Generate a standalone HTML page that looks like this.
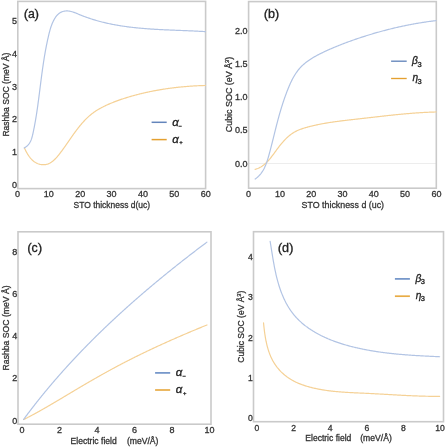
<!DOCTYPE html>
<html><head><meta charset="utf-8"><style>
html,body{margin:0;padding:0;background:#fff;width:445px;height:447px;overflow:hidden}
svg{display:block;filter:blur(0.3px)}
text{font-family:"Liberation Sans",sans-serif}
.t text{stroke-width:0.3px;paint-order:stroke}
</style></head><body>
<svg width="445" height="447" viewBox="0 0 445 447">
<rect width="445" height="447" fill="#fff"/>
<rect x="17.80" y="1.40" width="187.80" height="187.20" fill="none" stroke="#cacaca" stroke-width="1.6"/>
<path d="M24.44,148.02 24.71,148.62 24.99,149.23 25.29,149.85 25.60,150.48 25.92,151.12 26.26,151.77 26.61,152.41 26.98,153.06 27.36,153.70 27.76,154.35 28.17,154.99 28.59,155.62 29.03,156.25 29.48,156.86 29.95,157.47 30.43,158.06 30.93,158.64 31.44,159.19 31.97,159.73 32.51,160.25 33.07,160.75 33.64,161.22 34.22,161.67 34.82,162.09 35.44,162.48 36.07,162.84 36.71,163.17 37.36,163.46 38.03,163.73 38.70,163.97 39.37,164.17 40.06,164.34 40.74,164.48 41.43,164.59 42.12,164.67 42.81,164.71 43.50,164.72 44.18,164.70 44.87,164.64 45.54,164.55 46.21,164.43 46.87,164.27 47.52,164.07 48.16,163.85 48.79,163.59 49.41,163.30 50.02,162.98 50.62,162.63 51.21,162.26 51.79,161.86 52.37,161.43 52.93,160.99 53.49,160.52 54.04,160.04 54.58,159.53 55.11,159.01 55.64,158.47 56.16,157.93 56.67,157.36 57.17,156.79 57.67,156.21 58.16,155.62 58.65,155.02 59.13,154.42 59.60,153.81 60.07,153.20 60.54,152.59 60.99,151.98 61.45,151.38 61.90,150.77 62.34,150.17 62.78,149.56 63.22,148.96 63.65,148.36 64.08,147.76 64.50,147.16 64.93,146.57 65.35,145.97 65.76,145.38 66.18,144.78 66.59,144.19 67.00,143.60 67.41,143.01 67.82,142.42 68.23,141.84 68.63,141.25 69.04,140.66 69.44,140.08 69.85,139.49 70.25,138.91 70.65,138.33 71.06,137.75 71.46,137.17 71.87,136.59 72.28,136.01 72.68,135.43 73.09,134.85 73.50,134.27 73.92,133.70 74.33,133.12 74.75,132.54 75.17,131.97 75.60,131.39 76.02,130.82 76.45,130.25 76.89,129.67 77.32,129.10 77.77,128.53 78.21,127.95 78.66,127.38 79.11,126.81 79.57,126.25 80.03,125.68 80.49,125.12 80.96,124.56 81.44,124.00 81.91,123.45 82.39,122.90 82.88,122.35 83.37,121.80 83.87,121.26 84.37,120.73 84.87,120.20 85.38,119.67 85.89,119.15 86.41,118.63 86.94,118.12 87.46,117.61 88.00,117.11 88.54,116.62 89.08,116.13 89.63,115.65 90.18,115.18 90.74,114.71 91.31,114.25 91.88,113.80 92.46,113.36 93.04,112.92 93.62,112.50 94.22,112.08 94.81,111.66 95.42,111.26 96.02,110.86 96.64,110.47 97.25,110.09 97.87,109.71 98.50,109.34 99.12,108.97 99.76,108.62 100.39,108.26 101.03,107.92 101.67,107.57 102.32,107.24 102.97,106.91 103.62,106.58 104.27,106.26 104.92,105.94 105.58,105.63 106.24,105.32 106.90,105.02 107.56,104.72 108.23,104.42 108.89,104.13 109.56,103.84 110.23,103.55 110.90,103.27 111.57,102.99 112.24,102.72 112.92,102.44 113.59,102.17 114.27,101.91 114.95,101.65 115.62,101.39 116.30,101.13 116.98,100.88 117.67,100.63 118.35,100.38 119.03,100.14 119.72,99.89 120.40,99.66 121.09,99.42 121.78,99.19 122.47,98.96 123.16,98.73 123.85,98.50 124.54,98.28 125.23,98.06 125.93,97.84 126.62,97.63 127.31,97.41 128.01,97.20 128.70,96.99 129.40,96.79 130.10,96.58 130.80,96.38 131.49,96.18 132.19,95.98 132.89,95.79 133.59,95.59 134.29,95.40 135.00,95.21 135.70,95.02 136.40,94.84 137.10,94.65 137.81,94.47 138.51,94.29 139.21,94.11 139.92,93.94 140.62,93.76 141.33,93.59 142.04,93.42 142.74,93.25 143.45,93.09 144.16,92.92 144.87,92.76 145.58,92.60 146.29,92.44 147.00,92.29 147.71,92.13 148.42,91.98 149.13,91.83 149.84,91.68 150.55,91.53 151.26,91.39 151.98,91.24 152.69,91.10 153.40,90.96 154.12,90.83 154.83,90.69 155.55,90.56 156.26,90.43 156.98,90.30 157.69,90.17 158.41,90.04 159.12,89.92 159.84,89.79 160.56,89.67 161.28,89.55 161.99,89.44 162.71,89.32 163.43,89.21 164.15,89.09 164.87,88.98 165.59,88.88 166.31,88.77 167.02,88.66 167.74,88.56 168.47,88.46 169.19,88.36 169.91,88.26 170.63,88.17 171.35,88.07 172.07,87.98 172.79,87.89 173.51,87.80 174.24,87.71 174.96,87.63 175.68,87.54 176.40,87.46 177.13,87.38 177.85,87.30 178.57,87.22 179.30,87.15 180.02,87.07 180.74,87.00 181.47,86.93 182.19,86.86 182.91,86.79 183.64,86.73 184.36,86.66 185.09,86.60 185.81,86.54 186.54,86.48 187.26,86.42 187.99,86.36 188.71,86.31 189.44,86.26 190.16,86.20 190.89,86.15 191.61,86.11 192.34,86.06 193.06,86.01 193.79,85.97 194.51,85.93 195.24,85.89 195.96,85.85 196.69,85.81 197.41,85.77 198.14,85.74 198.87,85.71 199.59,85.67 200.32,85.64 201.04,85.62 201.77,85.59 202.49,85.56 203.22,85.54 203.94,85.52 204.67,85.49 205.39,85.47" stroke="#f5d196" stroke-width="1.20" fill="none" stroke-linejoin="round" stroke-linecap="round"/>
<path d="M24.20,147.91 25.14,147.38 26.00,146.81 26.80,146.20 27.52,145.54 28.19,144.85 28.79,144.12 29.34,143.36 29.84,142.57 30.29,141.75 30.70,140.90 31.07,140.03 31.41,139.14 31.71,138.24 31.99,137.32 32.25,136.38 32.49,135.44 32.71,134.49 32.93,133.54 33.14,132.58 33.34,131.62 33.54,130.66 33.74,129.70 33.93,128.74 34.13,127.78 34.31,126.82 34.50,125.86 34.68,124.90 34.86,123.94 35.03,122.97 35.21,122.01 35.37,121.04 35.54,120.08 35.71,119.11 35.87,118.15 36.03,117.18 36.18,116.22 36.34,115.25 36.49,114.28 36.64,113.32 36.79,112.35 36.93,111.38 37.07,110.41 37.22,109.44 37.36,108.48 37.49,107.51 37.63,106.54 37.77,105.57 37.90,104.60 38.03,103.64 38.16,102.67 38.29,101.70 38.42,100.73 38.55,99.77 38.68,98.80 38.80,97.83 38.93,96.86 39.05,95.90 39.18,94.93 39.30,93.96 39.42,93.00 39.54,92.03 39.67,91.07 39.79,90.10 39.91,89.14 40.03,88.17 40.15,87.21 40.27,86.25 40.40,85.28 40.52,84.32 40.64,83.36 40.76,82.39 40.89,81.43 41.01,80.47 41.13,79.51 41.26,78.55 41.38,77.58 41.51,76.62 41.64,75.66 41.76,74.70 41.89,73.74 42.02,72.78 42.15,71.82 42.29,70.86 42.42,69.90 42.55,68.94 42.69,67.98 42.83,67.02 42.97,66.06 43.11,65.10 43.25,64.14 43.39,63.18 43.54,62.22 43.69,61.27 43.84,60.31 43.99,59.35 44.14,58.39 44.30,57.43 44.46,56.47 44.62,55.51 44.78,54.56 44.94,53.60 45.11,52.64 45.28,51.68 45.46,50.72 45.63,49.76 45.81,48.81 45.99,47.85 46.18,46.89 46.36,45.93 46.55,44.97 46.75,44.02 46.94,43.06 47.14,42.10 47.35,41.14 47.55,40.18 47.77,39.22 47.98,38.26 48.20,37.31 48.42,36.35 48.64,35.39 48.87,34.43 49.11,33.47 49.35,32.51 49.60,31.55 49.85,30.60 50.12,29.65 50.40,28.70 50.69,27.75 51.00,26.81 51.33,25.87 51.67,24.94 52.03,24.01 52.41,23.09 52.82,22.18 53.24,21.27 53.69,20.37 54.17,19.49 54.67,18.62 55.20,17.78 55.76,16.96 56.34,16.18 56.95,15.44 57.60,14.75 58.27,14.10 58.97,13.51 59.70,12.98 60.46,12.52 61.25,12.11 62.07,11.77 62.90,11.49 63.76,11.27 64.64,11.10 65.53,11.00 66.43,10.95 67.35,10.95 68.27,11.01 69.20,11.11 70.13,11.27 71.06,11.48 71.99,11.73 72.93,12.02 73.87,12.34 74.80,12.68 75.74,13.04 76.68,13.42 77.61,13.81 78.55,14.20 79.49,14.59 80.43,14.98 81.36,15.36 82.30,15.73 83.23,16.09 84.16,16.45 85.10,16.80 86.03,17.14 86.96,17.47 87.90,17.80 88.83,18.13 89.76,18.44 90.69,18.75 91.63,19.05 92.56,19.35 93.49,19.64 94.42,19.92 95.36,20.20 96.29,20.47 97.23,20.74 98.16,21.00 99.09,21.26 100.03,21.51 100.97,21.75 101.90,21.99 102.84,22.23 103.78,22.45 104.72,22.68 105.66,22.90 106.60,23.11 107.54,23.32 108.49,23.53 109.43,23.73 110.38,23.93 111.33,24.12 112.27,24.31 113.22,24.49 114.17,24.67 115.12,24.85 116.08,25.02 117.03,25.19 117.98,25.35 118.94,25.51 119.90,25.67 120.85,25.82 121.81,25.97 122.77,26.12 123.73,26.26 124.69,26.40 125.65,26.53 126.61,26.66 127.58,26.79 128.54,26.92 129.50,27.04 130.47,27.16 131.44,27.27 132.40,27.38 133.37,27.49 134.34,27.60 135.30,27.70 136.27,27.81 137.24,27.90 138.21,28.00 139.18,28.09 140.16,28.18 141.13,28.27 142.10,28.36 143.07,28.44 144.04,28.52 145.02,28.60 145.99,28.68 146.97,28.75 147.94,28.82 148.92,28.89 149.89,28.96 150.87,29.03 151.84,29.09 152.82,29.16 153.79,29.22 154.77,29.28 155.75,29.34 156.72,29.39 157.70,29.45 158.68,29.50 159.65,29.55 160.63,29.60 161.61,29.65 162.59,29.70 163.56,29.75 164.54,29.80 165.52,29.84 166.50,29.89 167.47,29.93 168.45,29.97 169.43,30.02 170.40,30.06 171.38,30.10 172.36,30.14 173.34,30.18 174.31,30.22 175.29,30.26 176.26,30.30 177.24,30.33 178.22,30.37 179.19,30.41 180.17,30.45 181.14,30.49 182.11,30.52 183.09,30.56 184.06,30.60 185.03,30.64 186.01,30.68 186.98,30.71 187.95,30.75 188.92,30.79 189.89,30.83 190.86,30.87 191.83,30.92 192.80,30.96 193.77,31.00 194.74,31.04 195.71,31.09 196.67,31.13 197.64,31.18 198.60,31.23 199.57,31.28 200.53,31.33 201.50,31.38 202.46,31.43 203.42,31.48 204.38,31.54 205.34,31.59" stroke="#b2c4e4" stroke-width="1.20" fill="none" stroke-linejoin="round" stroke-linecap="round"/>
<path d="M151.6,122.3H166.7" stroke="#6385bb" stroke-width="1.5"/>
<path d="M151.6,139.6H166.7" stroke="#e4a030" stroke-width="1.5"/>
<path d="M248.60,163.45H436.30" stroke="#ededed" stroke-width="1.1"/>
<rect x="248.60" y="1.60" width="187.70" height="186.60" fill="none" stroke="#cacaca" stroke-width="1.6"/>
<path d="M255.10,169.30 255.79,169.12 256.45,168.92 257.10,168.70 257.74,168.47 258.36,168.21 258.97,167.93 259.57,167.64 260.15,167.33 260.72,167.01 261.29,166.67 261.84,166.32 262.37,165.96 262.90,165.58 263.42,165.19 263.93,164.79 264.43,164.37 264.92,163.95 265.41,163.52 265.88,163.08 266.35,162.63 266.82,162.17 267.27,161.71 267.72,161.24 268.17,160.76 268.61,160.27 269.04,159.78 269.47,159.29 269.89,158.78 270.31,158.28 270.73,157.76 271.14,157.25 271.55,156.73 271.96,156.20 272.36,155.68 272.77,155.14 273.17,154.61 273.57,154.07 273.96,153.53 274.36,152.99 274.76,152.45 275.15,151.91 275.55,151.36 275.94,150.82 276.34,150.27 276.74,149.73 277.14,149.18 277.54,148.64 277.94,148.10 278.35,147.56 278.76,147.02 279.17,146.48 279.58,145.94 280.00,145.41 280.42,144.88 280.85,144.36 281.28,143.83 281.71,143.31 282.15,142.80 282.59,142.29 283.03,141.78 283.48,141.28 283.94,140.78 284.39,140.29 284.86,139.81 285.32,139.33 285.79,138.85 286.27,138.39 286.75,137.93 287.23,137.47 287.73,137.03 288.22,136.59 288.72,136.16 289.23,135.74 289.74,135.32 290.26,134.92 290.78,134.52 291.31,134.13 291.84,133.75 292.38,133.38 292.93,133.03 293.48,132.68 294.04,132.34 294.60,132.01 295.17,131.70 295.75,131.39 296.33,131.10 296.92,130.81 297.51,130.54 298.11,130.27 298.71,130.02 299.32,129.77 299.93,129.53 300.55,129.30 301.17,129.07 301.79,128.85 302.42,128.64 303.05,128.44 303.68,128.24 304.31,128.04 304.95,127.85 305.58,127.66 306.22,127.48 306.86,127.30 307.50,127.12 308.14,126.95 308.79,126.78 309.43,126.61 310.07,126.45 310.71,126.28 311.36,126.12 312.00,125.97 312.65,125.81 313.29,125.66 313.94,125.51 314.59,125.36 315.23,125.22 315.88,125.07 316.53,124.93 317.18,124.79 317.83,124.66 318.48,124.52 319.13,124.39 319.78,124.26 320.43,124.13 321.08,124.01 321.73,123.88 322.39,123.76 323.04,123.64 323.69,123.52 324.35,123.40 325.00,123.29 325.65,123.18 326.31,123.06 326.96,122.95 327.62,122.85 328.28,122.74 328.93,122.64 329.59,122.53 330.24,122.43 330.90,122.33 331.56,122.23 332.22,122.13 332.87,122.04 333.53,121.94 334.19,121.85 334.85,121.75 335.51,121.66 336.17,121.57 336.83,121.48 337.49,121.39 338.15,121.31 338.81,121.22 339.47,121.14 340.13,121.05 340.79,120.97 341.45,120.88 342.11,120.80 342.77,120.72 343.43,120.64 344.09,120.56 344.75,120.48 345.41,120.40 346.07,120.33 346.74,120.25 347.40,120.17 348.06,120.09 348.72,120.02 349.38,119.94 350.04,119.87 350.70,119.79 351.37,119.72 352.03,119.64 352.69,119.57 353.35,119.49 354.01,119.42 354.67,119.34 355.34,119.27 356.00,119.20 356.66,119.12 357.32,119.05 357.98,118.97 358.64,118.90 359.30,118.82 359.97,118.75 360.63,118.67 361.29,118.60 361.95,118.52 362.61,118.45 363.27,118.37 363.93,118.30 364.59,118.22 365.25,118.14 365.91,118.07 366.57,117.99 367.23,117.92 367.89,117.84 368.55,117.76 369.21,117.69 369.87,117.61 370.53,117.54 371.19,117.46 371.85,117.38 372.51,117.31 373.17,117.23 373.83,117.15 374.49,117.08 375.15,117.00 375.81,116.93 376.47,116.85 377.13,116.78 377.79,116.70 378.45,116.63 379.10,116.55 379.76,116.48 380.42,116.40 381.08,116.33 381.74,116.25 382.40,116.18 383.06,116.11 383.72,116.03 384.38,115.96 385.04,115.89 385.70,115.81 386.36,115.74 387.02,115.67 387.68,115.60 388.34,115.52 388.99,115.45 389.65,115.38 390.31,115.31 390.97,115.24 391.63,115.17 392.29,115.10 392.95,115.03 393.61,114.97 394.27,114.90 394.93,114.83 395.59,114.76 396.25,114.70 396.91,114.63 397.57,114.56 398.23,114.50 398.89,114.43 399.55,114.37 400.21,114.31 400.87,114.24 401.53,114.18 402.19,114.12 402.85,114.06 403.51,114.00 404.17,113.93 404.83,113.88 405.49,113.82 406.15,113.76 406.81,113.70 407.47,113.64 408.13,113.59 408.80,113.53 409.46,113.48 410.12,113.42 410.78,113.37 411.44,113.31 412.10,113.26 412.76,113.21 413.43,113.16 414.09,113.11 414.75,113.06 415.41,113.01 416.07,112.96 416.74,112.92 417.40,112.87 418.06,112.83 418.72,112.78 419.39,112.74 420.05,112.70 420.71,112.66 421.38,112.61 422.04,112.57 422.70,112.54 423.37,112.50 424.03,112.46 424.69,112.42 425.36,112.39 426.02,112.36 426.69,112.32 427.35,112.29 428.02,112.26 428.68,112.23 429.35,112.20 430.01,112.17 430.68,112.15 431.34,112.12 432.01,112.09 432.68,112.07 433.34,112.05 434.01,112.03 434.67,112.01 435.34,111.99 436.01,111.97" stroke="#f5d196" stroke-width="1.20" fill="none" stroke-linejoin="round" stroke-linecap="round"/>
<path d="M255.14,179.02 255.92,178.47 256.66,177.89 257.37,177.29 258.05,176.68 258.71,176.05 259.33,175.40 259.93,174.74 260.51,174.06 261.06,173.37 261.58,172.66 262.08,171.94 262.56,171.20 263.02,170.46 263.46,169.70 263.88,168.93 264.28,168.15 264.67,167.36 265.04,166.56 265.39,165.76 265.73,164.94 266.05,164.12 266.37,163.29 266.67,162.45 266.96,161.61 267.24,160.76 267.51,159.91 267.78,159.06 268.04,158.20 268.29,157.34 268.53,156.47 268.78,155.61 269.02,154.75 269.26,153.88 269.49,153.01 269.73,152.15 269.96,151.28 270.19,150.42 270.42,149.55 270.65,148.68 270.87,147.82 271.10,146.95 271.32,146.08 271.54,145.21 271.76,144.35 271.98,143.48 272.20,142.61 272.42,141.74 272.63,140.88 272.85,140.01 273.07,139.14 273.28,138.27 273.50,137.41 273.71,136.54 273.93,135.67 274.14,134.80 274.36,133.93 274.57,133.07 274.79,132.20 275.01,131.33 275.22,130.46 275.44,129.60 275.66,128.73 275.88,127.86 276.09,127.00 276.31,126.13 276.54,125.27 276.76,124.40 276.98,123.54 277.21,122.67 277.43,121.81 277.66,120.94 277.89,120.08 278.12,119.21 278.36,118.35 278.59,117.49 278.83,116.63 279.07,115.76 279.31,114.90 279.56,114.04 279.80,113.18 280.05,112.32 280.30,111.46 280.55,110.60 280.81,109.75 281.07,108.89 281.33,108.03 281.59,107.18 281.86,106.32 282.12,105.47 282.40,104.61 282.67,103.76 282.95,102.91 283.23,102.06 283.51,101.21 283.79,100.36 284.08,99.51 284.38,98.66 284.67,97.81 284.97,96.97 285.27,96.12 285.58,95.28 285.89,94.44 286.20,93.59 286.51,92.75 286.83,91.91 287.16,91.08 287.48,90.24 287.82,89.40 288.15,88.57 288.49,87.73 288.83,86.90 289.18,86.08 289.54,85.25 289.90,84.43 290.26,83.61 290.64,82.79 291.02,81.98 291.40,81.18 291.80,80.38 292.20,79.58 292.61,78.80 293.03,78.01 293.46,77.24 293.90,76.47 294.35,75.71 294.80,74.95 295.27,74.21 295.75,73.47 296.24,72.74 296.74,72.03 297.26,71.32 297.78,70.62 298.32,69.93 298.87,69.25 299.44,68.59 300.02,67.94 300.61,67.29 301.22,66.66 301.84,66.04 302.47,65.44 303.11,64.84 303.77,64.26 304.44,63.68 305.12,63.12 305.81,62.57 306.51,62.02 307.23,61.49 307.95,60.97 308.68,60.45 309.42,59.94 310.16,59.45 310.92,58.96 311.68,58.47 312.45,58.00 313.22,57.54 314.01,57.08 314.79,56.63 315.59,56.18 316.38,55.74 317.19,55.31 317.99,54.88 318.80,54.46 319.61,54.05 320.43,53.64 321.24,53.24 322.06,52.84 322.88,52.44 323.70,52.05 324.52,51.66 325.34,51.28 326.16,50.90 326.99,50.53 327.81,50.15 328.63,49.78 329.45,49.42 330.27,49.06 331.09,48.70 331.91,48.34 332.73,47.99 333.56,47.64 334.38,47.29 335.20,46.95 336.02,46.61 336.85,46.27 337.67,45.93 338.50,45.60 339.32,45.27 340.15,44.94 340.97,44.62 341.80,44.30 342.62,43.98 343.45,43.66 344.28,43.34 345.11,43.03 345.94,42.72 346.77,42.41 347.60,42.10 348.43,41.80 349.27,41.49 350.10,41.19 350.94,40.89 351.77,40.59 352.61,40.30 353.45,40.00 354.29,39.71 355.13,39.42 355.97,39.13 356.81,38.84 357.65,38.55 358.50,38.27 359.34,37.99 360.19,37.71 361.04,37.43 361.89,37.15 362.73,36.87 363.58,36.60 364.43,36.33 365.29,36.06 366.14,35.79 366.99,35.52 367.85,35.25 368.70,34.99 369.56,34.73 370.41,34.47 371.27,34.21 372.13,33.95 372.99,33.70 373.85,33.45 374.71,33.20 375.57,32.95 376.43,32.70 377.29,32.45 378.15,32.21 379.02,31.97 379.88,31.73 380.74,31.49 381.61,31.26 382.48,31.02 383.34,30.79 384.21,30.56 385.08,30.33 385.95,30.11 386.81,29.88 387.68,29.66 388.55,29.44 389.42,29.22 390.30,29.00 391.17,28.79 392.04,28.58 392.91,28.36 393.78,28.16 394.66,27.95 395.53,27.75 396.40,27.54 397.28,27.34 398.15,27.14 399.03,26.95 399.90,26.75 400.78,26.56 401.65,26.37 402.53,26.18 403.41,26.00 404.28,25.81 405.16,25.63 406.04,25.45 406.92,25.27 407.79,25.10 408.67,24.92 409.55,24.75 410.43,24.58 411.31,24.41 412.19,24.25 413.07,24.09 413.95,23.93 414.82,23.77 415.70,23.61 416.58,23.46 417.46,23.30 418.34,23.15 419.22,23.01 420.10,22.86 420.98,22.72 421.86,22.58 422.74,22.44 423.62,22.30 424.50,22.17 425.38,22.04 426.26,21.91 427.14,21.78 428.02,21.65 428.90,21.53 429.78,21.41 430.66,21.29 431.54,21.18 432.42,21.06 433.30,20.95 434.18,20.84 435.06,20.73 435.93,20.63" stroke="#b2c4e4" stroke-width="1.20" fill="none" stroke-linejoin="round" stroke-linecap="round"/>
<path d="M391.1,61.2H406.7" stroke="#6385bb" stroke-width="1.35"/>
<path d="M391.1,78.5H406.7" stroke="#e4a030" stroke-width="1.35"/>
<rect x="18.00" y="231.80" width="193.00" height="192.40" fill="none" stroke="#cacaca" stroke-width="1.6"/>
<path d="M23.68,419.54 24.30,419.23 24.91,418.92 25.53,418.61 26.14,418.29 26.76,417.98 27.37,417.66 27.98,417.34 28.60,417.02 29.21,416.70 29.82,416.38 30.43,416.06 31.04,415.73 31.65,415.41 32.26,415.09 32.86,414.76 33.47,414.43 34.08,414.10 34.69,413.77 35.29,413.44 35.90,413.11 36.50,412.78 37.11,412.45 37.71,412.11 38.31,411.78 38.92,411.44 39.52,411.11 40.12,410.77 40.72,410.43 41.33,410.09 41.93,409.76 42.53,409.42 43.13,409.07 43.73,408.73 44.33,408.39 44.93,408.05 45.53,407.71 46.12,407.36 46.72,407.02 47.32,406.67 47.92,406.33 48.51,405.98 49.11,405.63 49.71,405.29 50.30,404.94 50.90,404.59 51.50,404.24 52.09,403.89 52.69,403.54 53.28,403.19 53.88,402.84 54.47,402.49 55.07,402.14 55.66,401.79 56.26,401.44 56.85,401.08 57.44,400.73 58.04,400.38 58.63,400.03 59.22,399.67 59.82,399.32 60.41,398.96 61.00,398.61 61.60,398.26 62.19,397.90 62.78,397.55 63.38,397.19 63.97,396.84 64.56,396.48 65.15,396.13 65.75,395.77 66.34,395.42 66.93,395.06 67.53,394.71 68.12,394.35 68.71,394.00 69.30,393.64 69.90,393.29 70.49,392.93 71.08,392.58 71.67,392.22 72.27,391.87 72.86,391.52 73.45,391.16 74.05,390.81 74.64,390.45 75.23,390.10 75.83,389.75 76.42,389.39 77.02,389.04 77.61,388.69 78.20,388.33 78.80,387.98 79.39,387.63 79.99,387.28 80.58,386.93 81.18,386.58 81.77,386.23 82.37,385.87 82.96,385.52 83.56,385.17 84.16,384.82 84.75,384.48 85.35,384.13 85.95,383.78 86.54,383.43 87.14,383.08 87.74,382.73 88.33,382.39 88.93,382.04 89.53,381.69 90.13,381.35 90.73,381.00 91.32,380.65 91.92,380.31 92.52,379.96 93.12,379.62 93.72,379.28 94.32,378.93 94.92,378.59 95.52,378.25 96.12,377.90 96.72,377.56 97.32,377.22 97.92,376.88 98.52,376.54 99.12,376.20 99.72,375.86 100.32,375.52 100.93,375.18 101.53,374.84 102.13,374.50 102.73,374.17 103.34,373.83 103.94,373.49 104.54,373.16 105.15,372.82 105.75,372.49 106.36,372.15 106.96,371.82 107.56,371.49 108.17,371.15 108.78,370.82 109.38,370.49 109.99,370.16 110.59,369.83 111.20,369.50 111.81,369.17 112.41,368.84 113.02,368.51 113.63,368.18 114.24,367.85 114.84,367.52 115.45,367.20 116.06,366.87 116.67,366.55 117.28,366.22 117.89,365.90 118.50,365.58 119.11,365.25 119.72,364.93 120.33,364.61 120.94,364.29 121.56,363.97 122.17,363.65 122.78,363.33 123.39,363.01 124.00,362.69 124.62,362.38 125.23,362.06 125.84,361.74 126.46,361.43 127.07,361.11 127.69,360.80 128.30,360.48 128.92,360.17 129.53,359.86 130.15,359.54 130.77,359.23 131.38,358.92 132.00,358.61 132.62,358.30 133.23,357.99 133.85,357.68 134.47,357.38 135.09,357.07 135.70,356.76 136.32,356.45 136.94,356.15 137.56,355.84 138.18,355.54 138.80,355.23 139.42,354.93 140.04,354.63 140.66,354.32 141.28,354.02 141.90,353.72 142.52,353.42 143.14,353.12 143.77,352.82 144.39,352.52 145.01,352.22 145.63,351.92 146.26,351.62 146.88,351.32 147.50,351.02 148.12,350.73 148.75,350.43 149.37,350.14 150.00,349.84 150.62,349.55 151.25,349.25 151.87,348.96 152.50,348.66 153.12,348.37 153.75,348.08 154.37,347.79 155.00,347.49 155.62,347.20 156.25,346.91 156.88,346.62 157.50,346.33 158.13,346.04 158.76,345.76 159.39,345.47 160.01,345.18 160.64,344.89 161.27,344.60 161.90,344.32 162.53,344.03 163.16,343.75 163.79,343.46 164.42,343.18 165.04,342.89 165.67,342.61 166.30,342.33 166.93,342.04 167.56,341.76 168.20,341.48 168.83,341.20 169.46,340.91 170.09,340.63 170.72,340.35 171.35,340.07 171.98,339.79 172.61,339.51 173.25,339.23 173.88,338.96 174.51,338.68 175.14,338.40 175.78,338.12 176.41,337.85 177.04,337.57 177.68,337.29 178.31,337.02 178.94,336.74 179.58,336.47 180.21,336.19 180.84,335.92 181.48,335.64 182.11,335.37 182.75,335.10 183.38,334.82 184.02,334.55 184.65,334.28 185.29,334.01 185.92,333.73 186.56,333.46 187.19,333.19 187.83,332.92 188.47,332.65 189.10,332.38 189.74,332.11 190.37,331.84 191.01,331.57 191.65,331.31 192.29,331.04 192.92,330.77 193.56,330.50 194.20,330.24 194.83,329.97 195.47,329.70 196.11,329.44 196.75,329.17 197.38,328.90 198.02,328.64 198.66,328.37 199.30,328.11 199.94,327.84 200.58,327.58 201.22,327.32 201.85,327.05 202.49,326.79 203.13,326.53 203.77,326.26 204.41,326.00 205.05,325.74 205.69,325.48 206.33,325.22 206.97,324.95" stroke="#f5d196" stroke-width="1.20" fill="none" stroke-linejoin="round" stroke-linecap="round"/>
<path d="M23.62,419.42 24.12,418.73 24.63,418.04 25.14,417.35 25.66,416.66 26.17,415.97 26.68,415.29 27.19,414.60 27.71,413.92 28.22,413.23 28.74,412.55 29.26,411.87 29.78,411.18 30.30,410.50 30.82,409.82 31.34,409.14 31.86,408.46 32.38,407.79 32.91,407.11 33.43,406.43 33.96,405.76 34.48,405.08 35.01,404.41 35.54,403.73 36.07,403.06 36.60,402.39 37.13,401.72 37.66,401.05 38.19,400.38 38.73,399.71 39.26,399.04 39.80,398.37 40.33,397.70 40.87,397.04 41.41,396.37 41.95,395.71 42.49,395.04 43.03,394.38 43.57,393.72 44.11,393.06 44.66,392.39 45.20,391.73 45.75,391.07 46.29,390.42 46.84,389.76 47.38,389.10 47.93,388.44 48.48,387.79 49.03,387.13 49.58,386.48 50.13,385.82 50.69,385.17 51.24,384.52 51.79,383.86 52.35,383.21 52.90,382.56 53.46,381.91 54.02,381.26 54.58,380.61 55.14,379.97 55.69,379.32 56.26,378.67 56.82,378.03 57.38,377.38 57.94,376.74 58.51,376.10 59.07,375.45 59.63,374.81 60.20,374.17 60.77,373.53 61.34,372.89 61.90,372.25 62.47,371.61 63.04,370.97 63.61,370.33 64.18,369.70 64.76,369.06 65.33,368.43 65.90,367.79 66.48,367.16 67.05,366.52 67.63,365.89 68.21,365.26 68.78,364.63 69.36,364.00 69.94,363.37 70.52,362.74 71.10,362.11 71.68,361.48 72.26,360.85 72.85,360.23 73.43,359.60 74.01,358.98 74.60,358.35 75.18,357.73 75.77,357.10 76.36,356.48 76.95,355.86 77.53,355.24 78.12,354.62 78.71,354.00 79.30,353.38 79.89,352.76 80.49,352.14 81.08,351.52 81.67,350.91 82.27,350.29 82.86,349.67 83.46,349.06 84.05,348.45 84.65,347.83 85.25,347.22 85.84,346.61 86.44,345.99 87.04,345.38 87.64,344.77 88.24,344.16 88.84,343.55 89.45,342.95 90.05,342.34 90.65,341.73 91.26,341.12 91.86,340.52 92.47,339.91 93.07,339.31 93.68,338.70 94.29,338.10 94.90,337.50 95.50,336.90 96.11,336.29 96.72,335.69 97.33,335.09 97.94,334.49 98.56,333.89 99.17,333.29 99.78,332.70 100.40,332.10 101.01,331.50 101.62,330.91 102.24,330.31 102.86,329.72 103.47,329.12 104.09,328.53 104.71,327.94 105.33,327.34 105.95,326.75 106.56,326.16 107.19,325.57 107.81,324.98 108.43,324.39 109.05,323.80 109.67,323.21 110.30,322.63 110.92,322.04 111.54,321.45 112.17,320.87 112.79,320.28 113.42,319.70 114.05,319.11 114.67,318.53 115.30,317.95 115.93,317.36 116.56,316.78 117.19,316.20 117.82,315.62 118.45,315.04 119.08,314.46 119.71,313.88 120.34,313.30 120.98,312.73 121.61,312.15 122.24,311.57 122.88,311.00 123.51,310.42 124.15,309.85 124.78,309.27 125.42,308.70 126.06,308.12 126.69,307.55 127.33,306.98 127.97,306.41 128.61,305.84 129.25,305.27 129.89,304.70 130.53,304.13 131.17,303.56 131.81,302.99 132.45,302.42 133.10,301.86 133.74,301.29 134.38,300.73 135.03,300.16 135.67,299.60 136.32,299.03 136.96,298.47 137.61,297.90 138.25,297.34 138.90,296.78 139.55,296.22 140.20,295.66 140.85,295.10 141.49,294.54 142.14,293.98 142.79,293.42 143.44,292.86 144.09,292.30 144.74,291.75 145.40,291.19 146.05,290.63 146.70,290.08 147.35,289.52 148.01,288.97 148.66,288.42 149.31,287.86 149.97,287.31 150.62,286.76 151.28,286.20 151.93,285.65 152.59,285.10 153.25,284.55 153.90,284.00 154.56,283.45 155.22,282.90 155.88,282.36 156.54,281.81 157.20,281.26 157.86,280.72 158.52,280.17 159.18,279.62 159.84,279.08 160.50,278.53 161.16,277.99 161.82,277.45 162.48,276.90 163.15,276.36 163.81,275.82 164.47,275.28 165.14,274.74 165.80,274.20 166.46,273.66 167.13,273.12 167.79,272.58 168.46,272.04 169.13,271.50 169.79,270.96 170.46,270.43 171.13,269.89 171.79,269.35 172.46,268.82 173.13,268.28 173.80,267.75 174.47,267.21 175.14,266.68 175.81,266.15 176.48,265.61 177.15,265.08 177.82,264.55 178.49,264.02 179.16,263.49 179.83,262.96 180.50,262.43 181.17,261.90 181.85,261.37 182.52,260.84 183.19,260.31 183.86,259.79 184.54,259.26 185.21,258.73 185.89,258.21 186.56,257.68 187.24,257.16 187.91,256.63 188.59,256.11 189.26,255.58 189.94,255.06 190.61,254.54 191.29,254.01 191.97,253.49 192.65,252.97 193.32,252.45 194.00,251.93 194.68,251.41 195.36,250.89 196.03,250.37 196.71,249.85 197.39,249.33 198.07,248.82 198.75,248.30 199.43,247.78 200.11,247.27 200.79,246.75 201.47,246.23 202.15,245.72 202.83,245.20 203.52,244.69 204.20,244.18 204.88,243.66 205.56,243.15 206.24,242.64 206.92,242.12" stroke="#b2c4e4" stroke-width="1.20" fill="none" stroke-linejoin="round" stroke-linecap="round"/>
<path d="M155.1,372.9H170.2" stroke="#7093c8" stroke-width="1.7"/>
<path d="M155.1,390.0H170.2" stroke="#e8ac46" stroke-width="1.7"/>
<rect x="253.50" y="231.70" width="190.00" height="190.00" fill="none" stroke="#cacaca" stroke-width="1.6"/>
<path d="M263.53,322.87 263.60,323.56 263.67,324.25 263.74,324.95 263.81,325.65 263.88,326.35 263.96,327.06 264.04,327.77 264.12,328.48 264.20,329.19 264.28,329.91 264.37,330.62 264.46,331.34 264.56,332.06 264.66,332.79 264.76,333.51 264.86,334.23 264.97,334.96 265.08,335.69 265.20,336.41 265.32,337.14 265.44,337.87 265.57,338.59 265.71,339.32 265.84,340.05 265.99,340.77 266.13,341.50 266.29,342.22 266.45,342.94 266.61,343.67 266.78,344.39 266.95,345.10 267.13,345.82 267.32,346.54 267.51,347.25 267.71,347.96 267.91,348.67 268.12,349.37 268.34,350.07 268.56,350.77 268.79,351.47 269.03,352.16 269.28,352.85 269.53,353.53 269.79,354.21 270.06,354.89 270.33,355.56 270.61,356.23 270.90,356.89 271.20,357.55 271.51,358.21 271.82,358.85 272.15,359.50 272.48,360.13 272.82,360.77 273.17,361.39 273.53,362.01 273.90,362.62 274.28,363.23 274.66,363.83 275.05,364.43 275.45,365.02 275.86,365.60 276.28,366.17 276.71,366.74 277.14,367.31 277.58,367.86 278.03,368.41 278.49,368.96 278.95,369.49 279.43,370.02 279.91,370.55 280.39,371.06 280.89,371.57 281.39,372.08 281.90,372.57 282.41,373.06 282.94,373.54 283.46,374.01 284.00,374.48 284.54,374.94 285.09,375.39 285.65,375.83 286.21,376.27 286.78,376.70 287.35,377.12 287.93,377.53 288.52,377.94 289.11,378.34 289.71,378.73 290.32,379.11 290.93,379.48 291.54,379.85 292.16,380.21 292.79,380.56 293.42,380.90 294.06,381.23 294.70,381.56 295.34,381.88 296.00,382.19 296.65,382.49 297.31,382.79 297.97,383.08 298.64,383.37 299.31,383.64 299.98,383.91 300.66,384.18 301.34,384.43 302.03,384.69 302.71,384.93 303.40,385.17 304.10,385.40 304.79,385.63 305.49,385.85 306.19,386.07 306.89,386.28 307.59,386.49 308.29,386.69 309.00,386.89 309.70,387.08 310.41,387.27 311.12,387.45 311.83,387.63 312.54,387.80 313.25,387.97 313.96,388.14 314.67,388.30 315.38,388.46 316.10,388.61 316.81,388.76 317.52,388.91 318.24,389.05 318.95,389.19 319.67,389.32 320.38,389.45 321.10,389.58 321.82,389.71 322.53,389.83 323.25,389.95 323.97,390.06 324.68,390.17 325.40,390.28 326.12,390.39 326.84,390.49 327.56,390.59 328.28,390.69 329.00,390.78 329.72,390.87 330.44,390.96 331.16,391.04 331.88,391.13 332.61,391.21 333.33,391.29 334.05,391.36 334.77,391.44 335.50,391.51 336.22,391.58 336.94,391.64 337.66,391.71 338.39,391.77 339.11,391.83 339.84,391.89 340.56,391.95 341.28,392.01 342.01,392.06 342.73,392.11 343.46,392.16 344.18,392.21 344.91,392.26 345.63,392.31 346.36,392.35 347.08,392.40 347.81,392.44 348.53,392.48 349.26,392.52 349.99,392.56 350.71,392.60 351.44,392.64 352.16,392.67 352.89,392.71 353.61,392.75 354.34,392.78 355.06,392.82 355.79,392.85 356.51,392.88 357.24,392.92 357.97,392.95 358.69,392.98 359.42,393.01 360.14,393.04 360.87,393.08 361.59,393.11 362.31,393.14 363.04,393.17 363.76,393.21 364.49,393.24 365.21,393.27 365.94,393.30 366.66,393.34 367.38,393.37 368.11,393.41 368.83,393.44 369.55,393.48 370.27,393.51 371.00,393.55 371.72,393.59 372.44,393.62 373.16,393.66 373.88,393.70 374.61,393.74 375.33,393.78 376.05,393.82 376.77,393.86 377.49,393.90 378.21,393.94 378.93,393.98 379.65,394.02 380.37,394.06 381.09,394.10 381.81,394.14 382.53,394.18 383.25,394.22 383.97,394.26 384.69,394.30 385.41,394.35 386.13,394.39 386.85,394.43 387.57,394.47 388.29,394.51 389.01,394.55 389.73,394.60 390.45,394.64 391.17,394.68 391.89,394.72 392.61,394.76 393.33,394.80 394.05,394.84 394.77,394.89 395.49,394.93 396.21,394.97 396.93,395.01 397.65,395.05 398.37,395.09 399.09,395.13 399.81,395.17 400.53,395.21 401.25,395.24 401.97,395.28 402.69,395.32 403.41,395.36 404.13,395.39 404.85,395.43 405.57,395.47 406.29,395.50 407.01,395.54 407.73,395.57 408.45,395.61 409.17,395.64 409.89,395.67 410.61,395.71 411.34,395.74 412.06,395.77 412.78,395.80 413.50,395.83 414.22,395.86 414.94,395.89 415.67,395.92 416.39,395.95 417.11,395.97 417.83,396.00 418.56,396.02 419.28,396.05 420.00,396.07 420.73,396.09 421.45,396.12 422.18,396.14 422.90,396.16 423.62,396.18 424.35,396.20 425.07,396.21 425.80,396.23 426.53,396.24 427.25,396.26 427.98,396.27 428.70,396.28 429.43,396.30 430.16,396.31 430.88,396.32 431.61,396.32 432.34,396.33 433.07,396.34 433.80,396.34 434.52,396.34 435.25,396.35 435.98,396.35 436.71,396.35 437.44,396.35 438.17,396.34 438.90,396.34 439.64,396.33" stroke="#f5d196" stroke-width="1.20" fill="none" stroke-linejoin="round" stroke-linecap="round"/>
<path d="M270.12,241.24 270.24,241.98 270.37,242.74 270.49,243.49 270.61,244.24 270.74,245.00 270.86,245.75 270.98,246.51 271.10,247.27 271.23,248.03 271.35,248.79 271.47,249.56 271.59,250.32 271.71,251.09 271.84,251.85 271.96,252.62 272.08,253.39 272.21,254.16 272.33,254.93 272.46,255.70 272.58,256.47 272.71,257.24 272.84,258.01 272.97,258.78 273.10,259.56 273.23,260.33 273.36,261.10 273.50,261.88 273.64,262.65 273.78,263.43 273.92,264.20 274.06,264.97 274.20,265.75 274.35,266.52 274.50,267.30 274.65,268.07 274.81,268.85 274.96,269.62 275.12,270.39 275.29,271.17 275.45,271.94 275.62,272.71 275.79,273.48 275.96,274.26 276.14,275.03 276.32,275.80 276.51,276.56 276.70,277.33 276.89,278.10 277.08,278.87 277.28,279.63 277.49,280.40 277.70,281.16 277.91,281.92 278.12,282.68 278.34,283.44 278.57,284.20 278.80,284.96 279.03,285.71 279.27,286.47 279.51,287.22 279.76,287.97 280.01,288.72 280.27,289.46 280.53,290.21 280.80,290.95 281.07,291.69 281.35,292.42 281.63,293.15 281.92,293.89 282.21,294.61 282.51,295.34 282.81,296.06 283.12,296.78 283.44,297.50 283.76,298.21 284.09,298.92 284.42,299.62 284.75,300.33 285.10,301.02 285.45,301.72 285.80,302.41 286.17,303.10 286.53,303.78 286.91,304.46 287.29,305.13 287.67,305.80 288.07,306.47 288.47,307.13 288.87,307.79 289.29,308.44 289.71,309.08 290.13,309.72 290.56,310.36 291.00,310.99 291.45,311.62 291.90,312.24 292.37,312.85 292.83,313.46 293.31,314.07 293.79,314.67 294.28,315.26 294.78,315.85 295.28,316.43 295.79,317.00 296.31,317.57 296.84,318.13 297.37,318.69 297.91,319.24 298.46,319.78 299.01,320.32 299.57,320.86 300.13,321.39 300.70,321.91 301.28,322.42 301.86,322.94 302.45,323.44 303.05,323.94 303.65,324.43 304.25,324.92 304.86,325.41 305.48,325.88 306.10,326.36 306.73,326.82 307.36,327.28 307.99,327.74 308.63,328.19 309.28,328.64 309.93,329.08 310.58,329.51 311.24,329.94 311.90,330.36 312.56,330.78 313.23,331.20 313.90,331.60 314.58,332.01 315.26,332.41 315.94,332.80 316.63,333.19 317.32,333.57 318.01,333.95 318.70,334.32 319.40,334.69 320.10,335.05 320.80,335.41 321.51,335.77 322.22,336.11 322.93,336.46 323.64,336.80 324.35,337.13 325.07,337.46 325.79,337.79 326.51,338.11 327.23,338.42 327.95,338.74 328.68,339.04 329.41,339.35 330.14,339.65 330.87,339.94 331.60,340.23 332.34,340.52 333.07,340.80 333.81,341.08 334.55,341.35 335.29,341.62 336.03,341.89 336.78,342.15 337.52,342.41 338.27,342.66 339.02,342.91 339.77,343.16 340.52,343.40 341.27,343.64 342.02,343.88 342.78,344.11 343.53,344.34 344.29,344.57 345.05,344.79 345.80,345.01 346.56,345.23 347.32,345.44 348.08,345.65 348.84,345.86 349.61,346.06 350.37,346.26 351.13,346.46 351.89,346.66 352.66,346.85 353.42,347.04 354.19,347.22 354.95,347.41 355.72,347.59 356.49,347.77 357.25,347.94 358.02,348.11 358.78,348.28 359.55,348.45 360.32,348.62 361.09,348.78 361.85,348.94 362.62,349.10 363.39,349.26 364.16,349.41 364.92,349.56 365.69,349.71 366.46,349.86 367.23,350.00 368.00,350.14 368.77,350.28 369.54,350.42 370.31,350.56 371.08,350.69 371.85,350.82 372.62,350.95 373.39,351.08 374.16,351.20 374.93,351.32 375.70,351.44 376.47,351.56 377.24,351.68 378.02,351.80 378.79,351.91 379.56,352.02 380.33,352.13 381.11,352.24 381.88,352.34 382.65,352.45 383.42,352.55 384.20,352.65 384.97,352.75 385.75,352.84 386.52,352.94 387.29,353.03 388.07,353.12 388.84,353.21 389.62,353.30 390.39,353.39 391.17,353.47 391.94,353.56 392.72,353.64 393.49,353.72 394.27,353.80 395.05,353.88 395.82,353.96 396.60,354.03 397.38,354.11 398.15,354.18 398.93,354.25 399.71,354.32 400.49,354.39 401.26,354.46 402.04,354.52 402.82,354.59 403.60,354.65 404.38,354.71 405.16,354.78 405.94,354.84 406.71,354.90 407.49,354.95 408.27,355.01 409.05,355.07 409.83,355.12 410.61,355.18 411.39,355.23 412.18,355.28 412.96,355.34 413.74,355.39 414.52,355.44 415.30,355.49 416.08,355.53 416.86,355.58 417.65,355.63 418.43,355.67 419.21,355.72 419.99,355.76 420.78,355.81 421.56,355.85 422.34,355.89 423.13,355.94 423.91,355.98 424.69,356.02 425.48,356.06 426.26,356.10 427.05,356.14 427.83,356.18 428.62,356.22 429.40,356.26 430.19,356.30 430.97,356.33 431.76,356.37 432.55,356.41 433.33,356.44 434.12,356.48 434.90,356.52 435.69,356.55 436.48,356.59 437.27,356.62 438.05,356.66 438.84,356.70 439.63,356.73" stroke="#b2c4e4" stroke-width="1.20" fill="none" stroke-linejoin="round" stroke-linecap="round"/>
<path d="M394.9,278.9H409.9" stroke="#7093c8" stroke-width="1.7"/>
<path d="M394.9,296.2H409.9" stroke="#e8ac46" stroke-width="1.7"/>
<filter id="gs"><feColorMatrix type="saturate" values="0"/></filter><g filter="url(#gs)">
<text x="17.50" y="197.00" font-size="9.00" text-anchor="middle" fill="#333" stroke="#333" stroke-width="0.30" >0</text>
<text x="48.87" y="197.00" font-size="9.00" text-anchor="middle" fill="#333" stroke="#333" stroke-width="0.30" >10</text>
<text x="80.24" y="197.00" font-size="9.00" text-anchor="middle" fill="#333" stroke="#333" stroke-width="0.30" >20</text>
<text x="111.61" y="197.00" font-size="9.00" text-anchor="middle" fill="#333" stroke="#333" stroke-width="0.30" >30</text>
<text x="142.98" y="197.00" font-size="9.00" text-anchor="middle" fill="#333" stroke="#333" stroke-width="0.30" >40</text>
<text x="174.35" y="197.00" font-size="9.00" text-anchor="middle" fill="#333" stroke="#333" stroke-width="0.30" >50</text>
<text x="205.72" y="197.00" font-size="9.00" text-anchor="middle" fill="#333" stroke="#333" stroke-width="0.30" >60</text>
<text x="17.00" y="187.70" font-size="9.00" text-anchor="end" fill="#333" stroke="#333" stroke-width="0.30" >0</text>
<text x="17.00" y="155.05" font-size="9.00" text-anchor="end" fill="#333" stroke="#333" stroke-width="0.30" >1</text>
<text x="17.00" y="122.40" font-size="9.00" text-anchor="end" fill="#333" stroke="#333" stroke-width="0.30" >2</text>
<text x="17.00" y="89.75" font-size="9.00" text-anchor="end" fill="#333" stroke="#333" stroke-width="0.30" >3</text>
<text x="17.00" y="57.10" font-size="9.00" text-anchor="end" fill="#333" stroke="#333" stroke-width="0.30" >4</text>
<text x="17.00" y="24.45" font-size="9.00" text-anchor="end" fill="#333" stroke="#333" stroke-width="0.30" >5</text>
<text x="23.80" y="17.90" font-size="13.50" text-anchor="start" fill="#222" stroke="#222" stroke-width="0.30" letter-spacing="-0.3">(<tspan font-size="12.3">a</tspan>)</text>
<text x="172.30" y="125.60" font-size="11.50" text-anchor="start" fill="#222" stroke="#222" stroke-width="0.30" font-family="Liberation Serif, serif" font-style="italic">&#945;</text>
<text x="178.60" y="127.60" font-size="6.00" text-anchor="start" fill="#222" stroke="#222" stroke-width="0.30" >&#8722;</text>
<text x="172.30" y="142.60" font-size="11.50" text-anchor="start" fill="#222" stroke="#222" stroke-width="0.30" font-family="Liberation Serif, serif" font-style="italic">&#945;</text>
<text x="179.20" y="144.40" font-size="6.00" text-anchor="start" fill="#222" stroke="#222" stroke-width="0.30" >+</text>
<text x="111.80" y="207.80" font-size="9.00" text-anchor="middle" fill="#333" stroke="#333" stroke-width="0.30" textLength="76.5" lengthAdjust="spacingAndGlyphs">STO thickness d(uc)</text>
<text transform="translate(9.30,94.60) rotate(-90)" font-size="9.00" text-anchor="middle" fill="#333" stroke="#333" stroke-width="0.30" textLength="84.00" lengthAdjust="spacingAndGlyphs">Rashba SOC (meV &#197;)</text>
<text x="248.60" y="197.00" font-size="9.00" text-anchor="middle" fill="#333" stroke="#333" stroke-width="0.30" >0</text>
<text x="279.90" y="197.00" font-size="9.00" text-anchor="middle" fill="#333" stroke="#333" stroke-width="0.30" >10</text>
<text x="311.20" y="197.00" font-size="9.00" text-anchor="middle" fill="#333" stroke="#333" stroke-width="0.30" >20</text>
<text x="342.50" y="197.00" font-size="9.00" text-anchor="middle" fill="#333" stroke="#333" stroke-width="0.30" >30</text>
<text x="373.80" y="197.00" font-size="9.00" text-anchor="middle" fill="#333" stroke="#333" stroke-width="0.30" >40</text>
<text x="405.10" y="197.00" font-size="9.00" text-anchor="middle" fill="#333" stroke="#333" stroke-width="0.30" >50</text>
<text x="436.40" y="197.00" font-size="9.00" text-anchor="middle" fill="#333" stroke="#333" stroke-width="0.30" >60</text>
<text x="247.60" y="166.50" font-size="9.00" text-anchor="end" fill="#333" stroke="#333" stroke-width="0.30" >0.0</text>
<text x="247.60" y="133.43" font-size="9.00" text-anchor="end" fill="#333" stroke="#333" stroke-width="0.30" >0.5</text>
<text x="247.60" y="100.35" font-size="9.00" text-anchor="end" fill="#333" stroke="#333" stroke-width="0.30" >1.0</text>
<text x="247.60" y="67.28" font-size="9.00" text-anchor="end" fill="#333" stroke="#333" stroke-width="0.30" >1.5</text>
<text x="247.60" y="34.20" font-size="9.00" text-anchor="end" fill="#333" stroke="#333" stroke-width="0.30" >2.0</text>
<text x="263.80" y="17.90" font-size="13.50" text-anchor="start" fill="#222" stroke="#222" stroke-width="0.30" letter-spacing="-0.3">(<tspan font-size="12.6">b</tspan>)</text>
<text x="412.10" y="64.30" font-size="10.20" text-anchor="start" fill="#222" stroke="#222" stroke-width="0.30" font-style="italic">&#946;</text>
<text x="417.50" y="66.60" font-size="7.50" text-anchor="start" fill="#222" stroke="#222" stroke-width="0.30" >3</text>
<text x="412.40" y="81.40" font-size="10.20" text-anchor="start" fill="#222" stroke="#222" stroke-width="0.30" font-style="italic">&#951;</text>
<text x="417.50" y="83.60" font-size="7.50" text-anchor="start" fill="#222" stroke="#222" stroke-width="0.30" >3</text>
<text x="342.80" y="208.10" font-size="9.50" text-anchor="middle" fill="#333" stroke="#333" stroke-width="0.30" textLength="82.5" lengthAdjust="spacingAndGlyphs">STO thickness d (uc)</text>
<text transform="translate(232.30,94.50) rotate(-90)" font-size="8.80" text-anchor="middle" fill="#333" stroke="#333" stroke-width="0.30" textLength="75.50" lengthAdjust="spacingAndGlyphs">Cubic SOC (eV &#197;<tspan font-size="5.6" dy="-3.1">3</tspan><tspan dy="3.1">)</tspan></text>
<text x="21.90" y="433.10" font-size="9.00" text-anchor="middle" fill="#333" stroke="#333" stroke-width="0.30" >0</text>
<text x="59.42" y="433.10" font-size="9.00" text-anchor="middle" fill="#333" stroke="#333" stroke-width="0.30" >2</text>
<text x="96.94" y="433.10" font-size="9.00" text-anchor="middle" fill="#333" stroke="#333" stroke-width="0.30" >4</text>
<text x="134.46" y="433.10" font-size="9.00" text-anchor="middle" fill="#333" stroke="#333" stroke-width="0.30" >6</text>
<text x="171.98" y="433.10" font-size="9.00" text-anchor="middle" fill="#333" stroke="#333" stroke-width="0.30" >8</text>
<text x="209.50" y="433.10" font-size="9.00" text-anchor="middle" fill="#333" stroke="#333" stroke-width="0.30" >10</text>
<text x="17.20" y="423.50" font-size="9.00" text-anchor="end" fill="#333" stroke="#333" stroke-width="0.30" >0</text>
<text x="17.20" y="381.44" font-size="9.00" text-anchor="end" fill="#333" stroke="#333" stroke-width="0.30" >2</text>
<text x="17.20" y="339.38" font-size="9.00" text-anchor="end" fill="#333" stroke="#333" stroke-width="0.30" >4</text>
<text x="17.20" y="297.32" font-size="9.00" text-anchor="end" fill="#333" stroke="#333" stroke-width="0.30" >6</text>
<text x="17.20" y="255.26" font-size="9.00" text-anchor="end" fill="#333" stroke="#333" stroke-width="0.30" >8</text>
<text x="27.20" y="252.20" font-size="13.50" text-anchor="start" fill="#222" stroke="#222" stroke-width="0.30" letter-spacing="-0.1">(<tspan font-size="12.3">c</tspan>)</text>
<text x="175.70" y="375.70" font-size="11.50" text-anchor="start" fill="#222" stroke="#222" stroke-width="0.30" font-family="Liberation Serif, serif" font-style="italic">&#945;</text>
<text x="182.40" y="378.00" font-size="6.00" text-anchor="start" fill="#222" stroke="#222" stroke-width="0.30" >&#8722;</text>
<text x="175.70" y="393.10" font-size="11.50" text-anchor="start" fill="#222" stroke="#222" stroke-width="0.30" font-family="Liberation Serif, serif" font-style="italic">&#945;</text>
<text x="183.00" y="394.90" font-size="6.00" text-anchor="start" fill="#222" stroke="#222" stroke-width="0.30" >+</text>
<text x="70.60" y="444.20" font-size="8.60" text-anchor="start" fill="#333" stroke="#333" stroke-width="0.30" textLength="46.1" lengthAdjust="spacingAndGlyphs">Electric field</text>
<text x="126.90" y="444.20" font-size="8.60" text-anchor="start" fill="#333" stroke="#333" stroke-width="0.30" textLength="31.6" lengthAdjust="spacingAndGlyphs">(meV/&#197;)</text>
<text transform="translate(9.10,327.90) rotate(-90)" font-size="9.00" text-anchor="middle" fill="#333" stroke="#333" stroke-width="0.30" textLength="85.00" lengthAdjust="spacingAndGlyphs">Rashba SOC (meV &#197;)</text>
<text x="257.00" y="430.60" font-size="8.60" text-anchor="middle" fill="#333" stroke="#333" stroke-width="0.30" >0</text>
<text x="293.60" y="430.60" font-size="8.60" text-anchor="middle" fill="#333" stroke="#333" stroke-width="0.30" >2</text>
<text x="330.20" y="430.60" font-size="8.60" text-anchor="middle" fill="#333" stroke="#333" stroke-width="0.30" >4</text>
<text x="366.80" y="430.60" font-size="8.60" text-anchor="middle" fill="#333" stroke="#333" stroke-width="0.30" >6</text>
<text x="403.40" y="430.60" font-size="8.60" text-anchor="middle" fill="#333" stroke="#333" stroke-width="0.30" >8</text>
<text x="440.00" y="430.60" font-size="8.60" text-anchor="middle" fill="#333" stroke="#333" stroke-width="0.30" >10</text>
<text x="252.80" y="421.20" font-size="8.60" text-anchor="end" fill="#333" stroke="#333" stroke-width="0.30" >0</text>
<text x="252.80" y="380.90" font-size="8.60" text-anchor="end" fill="#333" stroke="#333" stroke-width="0.30" >1</text>
<text x="252.80" y="340.60" font-size="8.60" text-anchor="end" fill="#333" stroke="#333" stroke-width="0.30" >2</text>
<text x="252.80" y="300.30" font-size="8.60" text-anchor="end" fill="#333" stroke="#333" stroke-width="0.30" >3</text>
<text x="252.80" y="260.00" font-size="8.60" text-anchor="end" fill="#333" stroke="#333" stroke-width="0.30" >4</text>
<text x="277.80" y="252.20" font-size="13.50" text-anchor="start" fill="#222" stroke="#222" stroke-width="0.30" letter-spacing="-0.2">(<tspan font-size="12.6">d</tspan>)</text>
<text x="415.50" y="281.60" font-size="10.20" text-anchor="start" fill="#222" stroke="#222" stroke-width="0.30" font-style="italic">&#946;</text>
<text x="420.80" y="284.20" font-size="7.50" text-anchor="start" fill="#222" stroke="#222" stroke-width="0.30" >3</text>
<text x="415.80" y="298.80" font-size="10.20" text-anchor="start" fill="#222" stroke="#222" stroke-width="0.30" font-style="italic">&#951;</text>
<text x="420.80" y="301.00" font-size="7.50" text-anchor="start" fill="#222" stroke="#222" stroke-width="0.30" >3</text>
<text x="305.30" y="441.40" font-size="8.60" text-anchor="start" fill="#333" stroke="#333" stroke-width="0.30" textLength="46.0" lengthAdjust="spacingAndGlyphs">Electric field</text>
<text x="360.20" y="441.40" font-size="8.60" text-anchor="start" fill="#333" stroke="#333" stroke-width="0.30" textLength="31.6" lengthAdjust="spacingAndGlyphs">(meV/&#197;)</text>
<text transform="translate(244.40,326.70) rotate(-90)" font-size="8.70" text-anchor="middle" fill="#333" stroke="#333" stroke-width="0.30" textLength="72.00" lengthAdjust="spacingAndGlyphs">Cubic SOC (eV &#197;<tspan font-size="5.8" dy="-3.3">3</tspan><tspan dy="3.3">)</tspan></text>
</g>
</svg>
</body></html>
